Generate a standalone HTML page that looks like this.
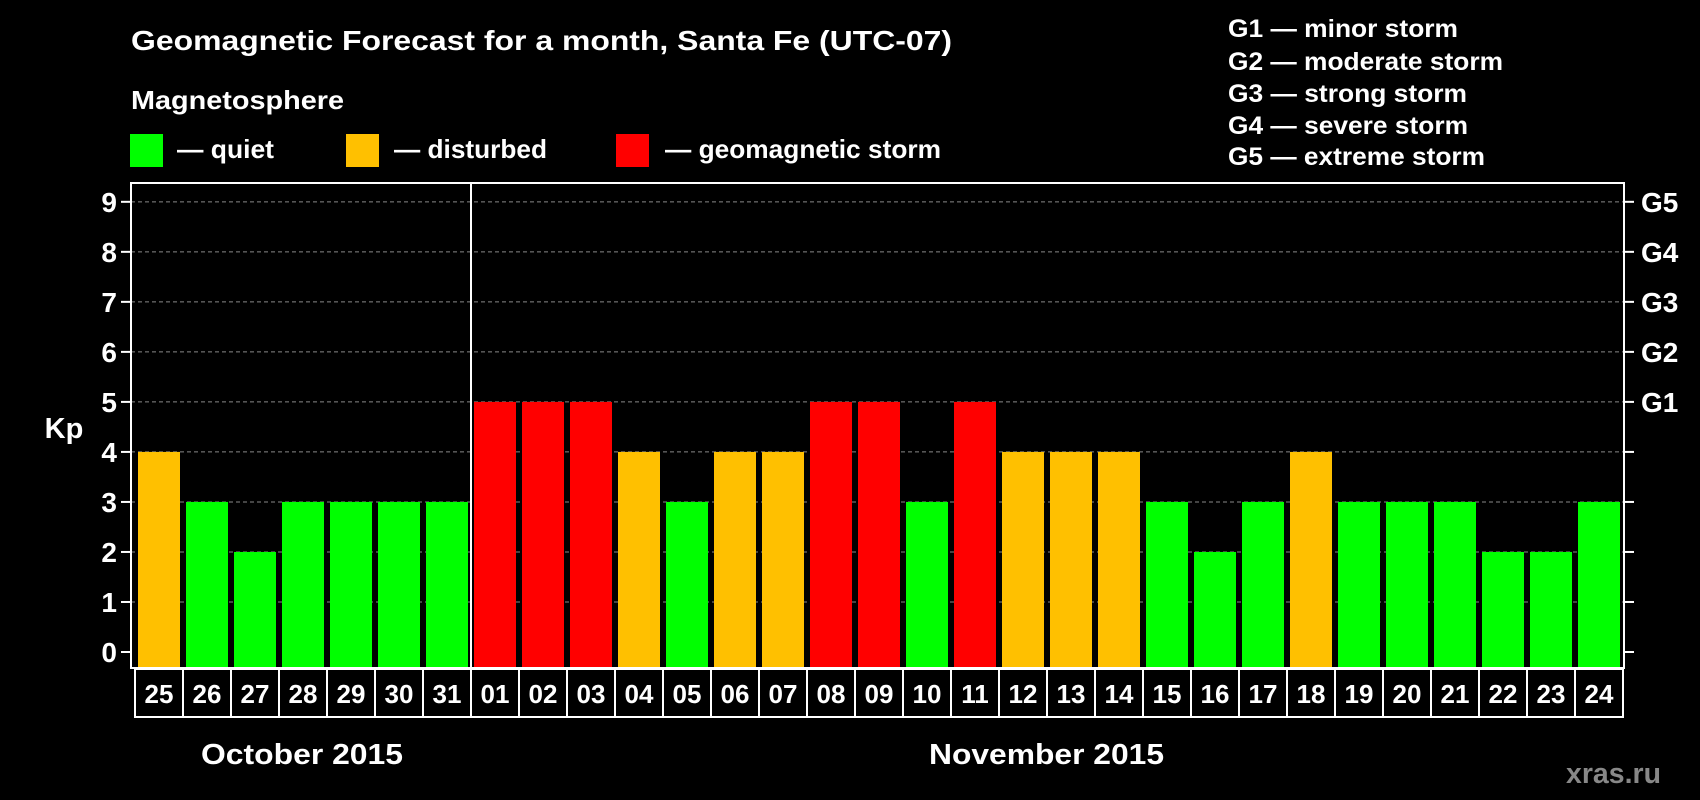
<!DOCTYPE html>
<html><head><meta charset="utf-8"><style>
html,body{margin:0;padding:0;background:#000;}
svg{display:block;font-family:"Liberation Sans",Arial,sans-serif;font-weight:bold;}
</style></head><body>
<svg id="chart" width="1700" height="800" viewBox="0 0 1700 800">
<rect width="1700" height="800" fill="#000"/>
<text x="131" y="50" fill="#fff" font-size="28" textLength="821" lengthAdjust="spacingAndGlyphs">Geomagnetic Forecast for a month, Santa Fe (UTC-07)</text>
<text x="131" y="109" fill="#fff" font-size="26" textLength="213" lengthAdjust="spacingAndGlyphs">Magnetosphere</text>
<g><rect x="130" y="134" width="33" height="33" fill="#00ff00"/><text x="177" y="158" fill="#fff" font-size="26" textLength="97" lengthAdjust="spacingAndGlyphs">— quiet</text></g>
<g><rect x="346" y="134" width="33" height="33" fill="#ffc000"/><text x="394" y="158" fill="#fff" font-size="26" textLength="153" lengthAdjust="spacingAndGlyphs">— disturbed</text></g>
<g><rect x="616" y="134" width="33" height="33" fill="#ff0000"/><text x="665" y="158" fill="#fff" font-size="26" textLength="276" lengthAdjust="spacingAndGlyphs">— geomagnetic storm</text></g>
<g fill="#fff" font-size="25">
<text x="1228" y="37" textLength="230" lengthAdjust="spacingAndGlyphs">G1 — minor storm</text>
<text x="1228" y="70" textLength="275" lengthAdjust="spacingAndGlyphs">G2 — moderate storm</text>
<text x="1228" y="102" textLength="239" lengthAdjust="spacingAndGlyphs">G3 — strong storm</text>
<text x="1228" y="134" textLength="240" lengthAdjust="spacingAndGlyphs">G4 — severe storm</text>
<text x="1228" y="165" textLength="257" lengthAdjust="spacingAndGlyphs">G5 — extreme storm</text>
</g>
<text x="64" y="438" fill="#fff" font-size="29" text-anchor="middle">Kp</text>
<g id="grid"></g><g id="bars"></g><g id="axes"></g>
<text x="201" y="764" fill="#fff" font-size="29" textLength="202" lengthAdjust="spacingAndGlyphs">October 2015</text>
<text x="929" y="764" fill="#fff" font-size="29" textLength="235" lengthAdjust="spacingAndGlyphs">November 2015</text>
<text x="1661" y="783" fill="#888" font-size="29" text-anchor="end" textLength="95" lengthAdjust="spacingAndGlyphs">xras.ru</text>
</svg>
<script>
const days = ["25","26","27","28","29","30","31","01","02","03","04","05","06","07","08","09","10","11","12","13","14","15","16","17","18","19","20","21","22","23","24"];
const kpValues = [4,3,2,3,3,3,3,5,5,5,4,3,4,4,5,5,3,5,4,4,4,3,2,3,4,3,3,3,2,2,3];
const yTicks = [0,1,2,3,4,5,6,7,8,9];
const gLabels = ["G1","G2","G3","G4","G5"];
const gLevels = [5,6,7,8,9];

const NS="http://www.w3.org/2000/svg";
const L=131,R=1624,T=183,B=668;
const y=v=>652-50.02*v;
const xc=i=>159+48*i;
function mk(tag,attrs,parent){const e=document.createElementNS(NS,tag);for(const k in attrs)e.setAttribute(k,attrs[k]);parent.appendChild(e);return e;}
const grid=document.getElementById('grid'),bars=document.getElementById('bars'),axes=document.getElementById('axes');
yTicks.forEach(v=>{
  if(v>0){const g=mk('line',{x1:L,x2:R,y1:y(v),y2:y(v),stroke:'#888','stroke-dasharray':'4,3','stroke-width':1},grid);
  
  }
  const t=mk('line',{x1:L-10,x2:L,y1:y(v),y2:y(v),stroke:'#fff','stroke-width':2},axes);
  
  
  const r=mk('line',{x1:R,x2:R+10,y1:y(v),y2:y(v),stroke:'#fff','stroke-width':2},axes);
  
  
  const lb=mk('text',{x:L-14,y:y(v)+10,fill:'#fff','font-size':28,'text-anchor':'end'},axes);
  lb.textContent=v;
  
  
});
gLabels.forEach((g,i)=>{
  const t=mk('text',{x:1641,y:y(gLevels[i])+10,fill:'#fff','font-size':28},axes);
  t.textContent=g;
  
  
});
kpValues.forEach((v,i)=>{
  const col=v>=5?'#ff0000':(v>=4?'#ffc000':'#00ff00');
  const b=mk('rect',{x:xc(i)-21,y:y(v),width:42,height:B-1-y(v),fill:col},bars);
  
  
});
const box=mk('rect',{x:L,y:T,width:R-L,height:B-T,fill:'none',stroke:'#fff','stroke-width':2},axes);


const sep=mk('line',{x1:471,x2:471,y1:T,y2:B,stroke:'#fff','stroke-width':2},axes);


days.forEach((d,i)=>{
  const c=mk('rect',{x:xc(i)-24,y:B+1,width:48,height:48,fill:'none',stroke:'#fff','stroke-width':2},axes);
  
  
  const t=mk('text',{x:xc(i),y:B+35,fill:'#fff','font-size':26,'text-anchor':'middle'},axes);
  t.textContent=d;
  
  
});
</script>
</body></html>
